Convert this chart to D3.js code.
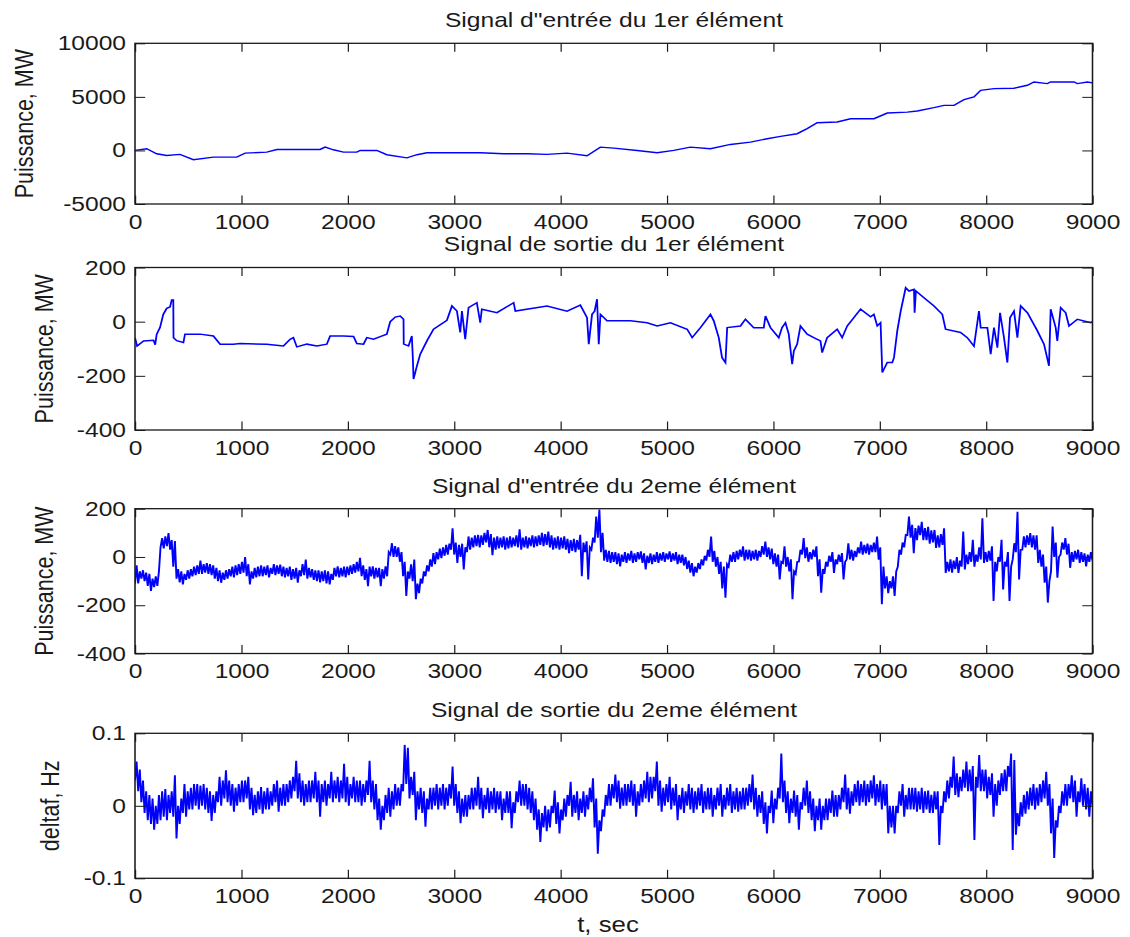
<!DOCTYPE html>
<html><head><meta charset="utf-8">
<script src="https://cdn.jsdelivr.net/npm/d3@7"></script>
<style>
html,body{margin:0;padding:0;background:#fff;}
svg{display:block;}
text{font-family:"Liberation Sans",Arial,sans-serif;fill:#1a1a1a;}
</style></head><body>
<svg id="chart" width="1130" height="937"></svg>
<script>
// ---------------- DATA ----------------
const titles = ["Signal d\"entrée du 1er élément", "Signal de sortie du 1er élément",
                "Signal d\"entrée du 2eme élément", "Signal de sortie du 2eme élément"];
const yLabels = ["Puissance, MW", "Puissance, MW", "Puissance, MW", "deltaf, Hz"];
const xLabel = "t, sec";
const xTicks = [0, 1000, 2000, 3000, 4000, 5000, 6000, 7000, 8000, 9000];
const yTicks1 = [-5000, 0, 5000, 10000];
const yTicks2 = [-400, -200, 0, 200];
const yTicks3 = [-400, -200, 0, 200];
const yTicks4 = [-0.1, 0, 0.1];

// Panel 1: input of 1st element (MW)
const p1Time = [0,110,204,298,423,549,737,956,1035,1239,1333,1740,1787,1865,1960,2085,2117,2273,2367,2556,2650,2744,3245,3465,3685,3873,4061,4249,4374,4500,4720,4908,5064,5221,5409,5597,5785,5942,6068,6224,6318,6412,6600,6726,6946,7071,7259,7353,7510,7604,7698,7792,7886,7949,8074,8262,8388,8450,8575,8607,8827,8857,8952,9000];
const p1Power = [0,160,-310,-470,-370,-870,-620,-620,-250,-160,90,90,310,60,-160,-160,0,0,-400,-690,-400,-220,-220,-310,-310,-370,-250,-500,310,220,0,-220,0,310,160,560,780,1090,1310,1560,2030,2590,2650,2960,2960,3490,3580,3680,3990,4210,4210,4740,4990,5610,5770,5800,6080,6390,6240,6390,6390,6240,6390,6300];

// Panel 2: output of 1st element (MW)
const p2Time = [0,20,80,174,190,204,235,266,298,329,345,360,362,392,455,470,611,737,800,925,988,1239,1395,1458,1489,1521,1615,1709,1803,1834,1960,2054,2085,2148,2179,2242,2305,2367,2399,2446,2493,2524,2526,2571,2602,2612,2618,2650,2681,2744,2806,2932,2979,3026,3057,3073,3104,3135,3213,3245,3260,3402,3559,3575,3873,4061,4186,4249,4265,4296,4320,4343,4359,4375,4437,4657,4813,4908,5033,5190,5237,5315,5409,5440,5487,5518,5550,5566,5691,5738,5816,5910,5926,5973,6051,6082,6114,6145,6177,6193,6224,6255,6318,6380,6443,6459,6506,6600,6647,6694,6757,6820,6914,6945,6977,7008,7024,7071,7118,7134,7165,7197,7244,7275,7322,7328,7340,7416,7510,7588,7619,7760,7823,7886,7933,7949,8012,8043,8074,8106,8131,8168,8200,8225,8262,8294,8325,8388,8482,8544,8591,8607,8654,8669,8701,8748,8779,8858,8983,9000];
const p2Power = [-59,-90,-71,-69,-85,-46,-22,27,49,54,80,80,-59,-70,-77,-46,-46,-53,-83,-83,-81,-83,-90,-65,-59,-93,-83,-90,-83,-53,-53,-55,-81,-83,-59,-65,-55,-46,0,17,21,9,-83,-90,-53,-139,-212,-163,-120,-71,-28,5,58,39,-40,39,-65,52,70,-4,46,33,70,39,58,39,61,15,-83,27,39,83,-83,27,3,3,-4,-16,-4,-28,-59,-22,27,3,-59,-133,-151,-22,-16,9,-22,-22,21,-22,-59,-22,-4,-46,-157,-108,-83,-16,-46,-59,-71,-114,-59,-28,-59,-16,15,46,18,27,-16,-4,-188,-151,-151,-133,-34,39,125,113,119,33,113,88,58,27,-28,-40,-59,-90,39,-22,-22,-120,-22,-96,33,-59,-151,15,39,-59,58,33,-34,-83,-163,46,-22,-71,52,33,-16,9,-4,0];

// Panels 3 and 4: lowest / highest value read in each 30 s window, 0 ... 9000 s
const windowStep = 30;
const p3Low = [-110,-110,-90,-100,-120,-141,-125,-120,40,35,
45,30,-40,-90,-105,-114,-95,-90,-80,-75,
-70,-70,-65,-70,-75,-90,-100,-107,-95,-90,
-80,-85,-75,-70,-65,-80,-114,-90,-85,-80,
-80,-75,-85,-70,-75,-70,-80,-85,-80,-95,
-90,-107,-80,-75,-90,-85,-95,-100,-105,-100,
-110,-114,-95,-80,-85,-80,-85,-75,-70,-65,
-60,-80,-95,-121,-80,-90,-85,-121,-90,-80,
10,0,0,-20,-80,-162,-90,-100,-175,-150,
-110,-80,-60,-40,-30,-10,-5,5,10,30,
10,-25,0,-52,20,30,40,45,40,50,
60,40,7,30,35,40,30,35,40,45,
40,30,40,35,45,40,45,50,45,50,
40,30,35,30,35,30,16,25,20,30,
-80,20,-93,30,60,80,20,-15,-20,-25,
-20,-30,-39,-20,-25,-15,-25,-20,-10,-25,
-52,-25,-30,-20,-25,-15,-20,-10,-20,-15,
-30,-25,-35,-50,-65,-80,-65,-50,-35,-15,
0,-20,-40,-70,-130,-169,-40,-20,-20,-10,
0,-15,-10,-15,-10,-15,0,10,0,-10,
-30,-40,-93,-25,-40,-60,-175,-70,-20,10,
-5,-20,-10,0,-80,-148,-70,-40,-20,-66,
-30,-20,-93,-10,-10,-15,0,15,10,15,
10,20,20,-11,-196,-130,-150,-130,-162,-40,
10,40,90,80,16,70,90,70,70,55,
60,37,40,50,-66,-60,-65,-50,-66,-40,
-52,-30,-20,-40,-20,-10,-25,-20,-15,-182,
-60,-20,-135,-40,-182,-10,20,-93,30,40,
50,40,30,-25,-40,-107,-189,-60,0,-86,
10,30,10,-45,-20,-10,-25,-20,-39,-20,
-15];
const p3High = [-35,-60,-55,-65,-70,-90,-80,-60,78,85,
99,70,66,-50,-60,-70,-55,-50,-40,-35,
-15,-30,-25,-30,-35,-45,-55,-65,-55,-50,
-40,-35,-30,-20,0,-30,-60,-45,-40,-35,
-40,-35,-45,-30,-35,-32,-40,-45,-40,-50,
-45,-55,-30,-11,-45,-50,-55,-55,-60,-55,
-60,-70,-45,-39,-45,-40,-40,-35,-30,-20,
-4,-35,-50,-40,-39,-45,-45,-50,-39,20,
57,45,40,20,-20,-60,-30,-11,-110,-90,
-60,-35,-10,16,20,35,40,50,55,119,
60,50,55,40,85,80,90,92,90,100,
112,95,80,85,80,85,80,85,80,90,
115,80,85,80,90,85,90,100,95,105,
90,80,85,80,85,75,70,75,70,92,
60,65,40,80,167,197,100,30,25,20,
20,15,10,20,15,25,15,20,23,15,
5,15,10,20,15,20,15,23,15,20,
10,10,0,-15,-25,-40,-25,-10,5,30,
85,25,0,-20,-40,-30,10,20,25,30,
44,30,30,25,30,25,45,64,40,35,
15,10,-20,44,0,-10,-60,-20,30,78,
40,20,30,44,-10,-50,-20,5,20,-10,
10,16,-20,57,30,25,40,64,50,55,
50,60,85,40,-40,-80,-100,-80,-60,30,
60,92,167,133,120,130,146,120,125,110,
112,90,95,119,-20,-10,-15,0,-15,105,
10,20,71,10,40,160,20,25,44,-20,
0,71,-20,20,-40,57,187,30,85,90,
99,90,90,30,10,-40,-100,126,60,0,
60,78,55,20,25,30,20,15,10,20,
10];
const p4Low = [0.035,0.02,0.005,-0.01,-0.02,-0.025,-0.033,-0.025,-0.02,-0.015,
-0.02,-0.01,-0.015,-0.045,-0.025,-0.01,-0.015,-0.005,-0.005,0,
-0.005,0,-0.005,-0.01,-0.021,-0.01,0.005,0,0.01,0.005,
0,-0.008,0,0.005,0.005,0.01,-0.005,-0.013,-0.01,-0.005,
-0.011,-0.005,-0.005,0,0.005,-0.008,0,0,0.005,0.01,
0.02,0.01,0.005,0,0.005,0.005,0.01,0.005,-0.015,0.005,
0,0.01,0.005,0.01,0.005,0.01,0.005,0,0.01,0.005,
0.005,0,0.005,0.015,0.005,-0.005,-0.02,-0.033,-0.02,-0.01,
-0.015,-0.005,0,0,0.02,0.03,0.01,0.015,-0.02,-0.005,
-0.01,-0.029,-0.005,-0.005,0,-0.005,0,-0.005,0,0.01,
0,-0.01,-0.024,-0.015,-0.015,-0.005,-0.005,0,-0.005,-0.017,
-0.005,-0.01,-0.005,-0.01,-0.005,-0.02,-0.01,-0.01,-0.031,-0.01,
0.005,0,0,-0.005,-0.01,-0.02,-0.033,-0.05,-0.03,-0.035,
-0.03,-0.01,-0.025,-0.038,-0.02,-0.015,0,-0.015,-0.01,-0.02,
-0.01,-0.015,-0.005,0.005,-0.03,-0.066,-0.035,-0.015,0,0,
0.01,0.005,-0.004,0,0,0.005,0,-0.015,0,0.005,
0.01,0.005,0.01,0.02,0,-0.008,0,0.005,-0.005,0,
-0.02,-0.005,-0.01,0,-0.005,-0.01,-0.005,0,-0.01,-0.005,
-0.005,-0.015,-0.005,0,-0.015,-0.005,0,-0.01,-0.005,-0.008,
-0.005,-0.005,0,0.005,-0.005,-0.015,-0.01,-0.025,-0.038,-0.01,
-0.024,-0.005,0.01,0.005,-0.01,-0.024,-0.01,-0.015,-0.033,-0.005,
0,-0.01,-0.02,-0.035,-0.02,-0.033,-0.02,-0.02,-0.01,-0.015,
-0.015,-0.005,0.005,-0.005,-0.011,0,0.005,0,0.005,0,
0.005,0.01,0,0.005,-0.005,0,-0.038,-0.03,-0.038,-0.01,
0,-0.015,-0.005,-0.005,-0.005,-0.008,-0.005,-0.01,-0.005,-0.01,
-0.01,-0.005,-0.054,-0.01,0.005,0.01,0.025,0.015,0.012,0.02,
0.025,0.02,0.02,-0.047,0.025,0.02,0.02,0.01,0.015,-0.015,
0,0.015,0.02,0.02,0.04,-0.061,-0.04,-0.028,-0.015,-0.011,
-0.005,0,-0.005,0,0.005,0.01,0,-0.038,-0.072,-0.03,
-0.01,0,0,0.01,0.005,-0.015,0.005,0,-0.005,-0.015,
0];
const p4High = [0.061,0.05,0.035,0.02,0.015,0.01,0,0.015,0.02,0.023,
0.015,0.02,0.042,0,0.01,0.03,0.02,0.025,0.03,0.03,
0.028,0.03,0.025,0.02,0.015,0.02,0.04,0.035,0.049,0.035,
0.03,0.025,0.03,0.035,0.035,0.04,0.025,0.015,0.02,0.026,
0.02,0.025,0.02,0.03,0.035,0.025,0.03,0.03,0.035,0.04,
0.062,0.045,0.035,0.03,0.035,0.035,0.047,0.035,0.03,0.035,
0.03,0.047,0.035,0.04,0.035,0.058,0.04,0.03,0.04,0.035,
0.035,0.03,0.035,0.062,0.035,0.03,0.01,0,0.015,0.025,
0.02,0.03,0.025,0.03,0.084,0.08,0.04,0.047,0.02,0.025,
0.02,0.01,0.025,0.025,0.03,0.025,0.03,0.025,0.03,0.054,
0.03,0.02,0.01,0.015,0.015,0.025,0.025,0.04,0.025,0.015,
0.025,0.02,0.025,0.02,0.02,0.01,0.02,0.02,0.005,0.02,
0.035,0.03,0.03,0.025,0.02,0.01,-0.005,-0.01,0,-0.005,
0,0.021,0.005,-0.005,0.01,0.015,0.033,0.015,0.02,0.01,
0.02,0.015,0.025,0.038,0.01,-0.02,-0.005,0.015,0.03,0.03,
0.043,0.035,0.025,0.03,0.03,0.035,0.03,0.02,0.03,0.035,
0.047,0.04,0.04,0.061,0.035,0.025,0.03,0.04,0.025,0.03,
0.015,0.025,0.02,0.03,0.025,0.02,0.025,0.03,0.02,0.025,
0.025,0.015,0.025,0.03,0.015,0.025,0.03,0.02,0.025,0.02,
0.025,0.025,0.03,0.043,0.025,0.015,0.02,0.005,0,0.021,
0.01,0.025,0.072,0.035,0.02,0.01,0.021,0.015,0.005,0.025,
0.035,0.02,0.01,0,0.01,0,0.01,0.01,0.021,0.015,
0.015,0.025,0.043,0.025,0.02,0.03,0.035,0.03,0.035,0.03,
0.035,0.042,0.03,0.035,0.03,0.03,0,0,0,0.02,
0.03,0.015,0.025,0.025,0.025,0.02,0.025,0.02,0.021,0.015,
0.02,0.02,0,0.02,0.035,0.04,0.068,0.045,0.04,0.05,
0.061,0.05,0.055,0.04,0.07,0.05,0.05,0.04,0.045,0.03,
0.035,0.045,0.05,0.055,0.072,0.063,-0.01,0.005,0.015,0.02,
0.025,0.03,0.025,0.03,0.035,0.047,0.03,0.01,-0.02,0,
0.02,0.03,0.03,0.042,0.035,0.02,0.038,0.03,0.025,0.02,
0.02];

// ---------------- LAYOUT ----------------
const S = 1.2;                 // horizontal stretch of the original figure
const leftPx = 135, rightPx = 1092.5;
const panelBoxes = [
  {top: 43.3, bottom: 204, labelX: 33},
  {top: 267.5, bottom: 430, labelX: 53},
  {top: 508.7, bottom: 653.5, labelX: 53},
  {top: 733.3, bottom: 878.3, labelX: 59}
];
// each 30 s window: its low value at the window start, its high value half a window later
const windowPoints = (low, high) => low.flatMap((lo, k) => {
  const t = k * windowStep;
  return [[t, lo], [t + windowStep / 2, high[k]]];
});
const panelData = [
  {points: p1Time.map((t, k) => [t, p1Power[k]]), domain: [-5000, 10000], ticks: yTicks1, width: 1.4},
  {points: p2Time.map((t, k) => [t, p2Power[k]]), domain: [-400, 200], ticks: yTicks2, width: 1.5},
  {points: windowPoints(p3Low, p3High), domain: [-400, 200], ticks: yTicks3, width: 1.6},
  {points: windowPoints(p4Low, p4High), domain: [-0.1, 0.1], ticks: yTicks4, width: 1.6}
];

const svg = d3.select('#chart');
const root = svg.append('g').attr('transform', `scale(${S},1)`);
const x = d3.scaleLinear().domain([0, 9000]).range([leftPx / S, rightPx / S]);
const fmt = d => String(d);
const axisColor = '#1a1a1a';
const tickLen = 8.5;

panelData.forEach((p, i) => {
  const box = panelBoxes[i];
  const y = d3.scaleLinear().domain(p.domain).range([box.bottom, box.top]);

  const clipId = 'clip' + i;
  root.append('clipPath').attr('id', clipId).append('rect')
    .attr('x', x.range()[0]).attr('y', box.top)
    .attr('width', x.range()[1] - x.range()[0]).attr('height', box.bottom - box.top);

  root.append('path')
    .datum(p.points)
    .attr('clip-path', `url(#${clipId})`)
    .attr('fill', 'none')
    .attr('stroke', '#0000ff')
    .attr('stroke-width', p.width)
    .attr('stroke-linejoin', 'miter')
    .attr('d', d3.line().x(d => x(d[0])).y(d => y(d[1])));

  const styleAxis = g => {
    g.attr('font-size', 20.5).attr('font-family', '"Liberation Sans",Arial,sans-serif').attr('color', axisColor);
    g.select('.domain').remove();
    g.selectAll('.tick line').attr('stroke-width', 1);
  };
  root.append('g').attr('transform', `translate(0,${box.bottom})`)
    .call(d3.axisBottom(x).tickValues(xTicks).tickSizeInner(-tickLen).tickSizeOuter(0).tickPadding(10).tickFormat(fmt))
    .call(styleAxis);
  root.append('g').attr('transform', `translate(0,${box.top})`)
    .call(d3.axisTop(x).tickValues(xTicks).tickSizeInner(-tickLen).tickSizeOuter(0).tickFormat(''))
    .call(styleAxis);
  root.append('g').attr('transform', `translate(${x.range()[0]},0)`)
    .call(d3.axisLeft(y).tickValues(p.ticks).tickSizeInner(-tickLen).tickSizeOuter(0).tickPadding(7.5).tickFormat(fmt))
    .call(styleAxis);
  root.append('g').attr('transform', `translate(${x.range()[1]},0)`)
    .call(d3.axisRight(y).tickValues(p.ticks).tickSizeInner(-tickLen).tickSizeOuter(0).tickFormat(''))
    .call(styleAxis);

  root.append('rect')
    .attr('x', x.range()[0]).attr('y', box.top)
    .attr('width', x.range()[1] - x.range()[0]).attr('height', box.bottom - box.top)
    .attr('fill', 'none').attr('stroke', axisColor).attr('stroke-width', 1.3);

  root.append('text')
    .attr('x', 614 / S).attr('y', box.top - 16)
    .attr('text-anchor', 'middle').attr('font-size', 20.5)
    .text(titles[i]);

  root.append('text')
    .attr('transform', `translate(${box.labelX / S},${(box.top + box.bottom) / 2}) rotate(-90)`)
    .attr('text-anchor', 'middle').attr('font-size', 21.5)
    .text(yLabels[i]);
});

root.append('text')
  .attr('x', 608 / S).attr('y', 932)
  .attr('text-anchor', 'middle').attr('font-size', 21.5)
  .text(xLabel);
</script>
</body></html>
